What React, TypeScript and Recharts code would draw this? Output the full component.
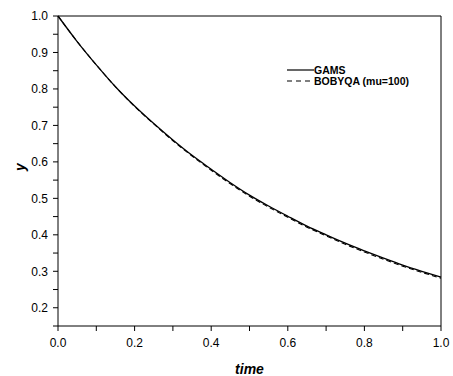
import { LineChart, Line, XAxis, YAxis, Legend, ReferenceLine } from 'recharts';

const times = [0, 0.05, 0.1, 0.15, 0.2, 0.25, 0.3, 0.35, 0.4, 0.45, 0.5, 0.55, 0.6, 0.65, 0.7, 0.75, 0.8, 0.85, 0.9, 0.95, 1.0];
const gams = [1.0, 0.930, 0.866, 0.806, 0.753, 0.705, 0.660, 0.618, 0.580, 0.543, 0.509, 0.479, 0.451, 0.424, 0.400, 0.377, 0.356, 0.336, 0.317, 0.300, 0.284];
const bobyqa = [1.0, 0.930, 0.866, 0.806, 0.752, 0.704, 0.658, 0.616, 0.577, 0.540, 0.506, 0.476, 0.448, 0.421, 0.397, 0.374, 0.353, 0.333, 0.314, 0.297, 0.281];
const xTicks = [0, 0.1, 0.2, 0.3, 0.4, 0.5, 0.6, 0.7, 0.8, 0.9, 1.0];
const yTicks = [0.15, 0.2, 0.25, 0.3, 0.35, 0.4, 0.45, 0.5, 0.55, 0.6, 0.65, 0.7, 0.75, 0.8, 0.85, 0.9, 0.95, 1.0];

const data = times.map((t, i) => ({ t, gams: gams[i], bobyqa: bobyqa[i] }));

const font = 'Arial, "Liberation Sans", sans-serif';

const LegendBox = () => (
  <div style={{ fontFamily: font, fontSize: 10.5, fontWeight: 'bold', color: '#000', lineHeight: '10.5px' }}>
    <div style={{ display: 'flex', alignItems: 'center' }}>
      <svg width={27} height={10}>
        <line x1={0} y1={5} x2={27} y2={5} stroke="#000" strokeWidth={1.2} />
      </svg>
      <span>GAMS</span>
    </div>
    <div style={{ display: 'flex', alignItems: 'center' }}>
      <svg width={27} height={10}>
        <line x1={0} y1={5} x2={27} y2={5} stroke="#000" strokeWidth={1.2} strokeDasharray="5 4" />
      </svg>
      <span>BOBYQA (mu=100)</span>
    </div>
  </div>
);

const App = () => {
  return (
    <div style={{ position: 'absolute', left: 0, top: 0, background: '#fff' }}>
      <LineChart width={453} height={376} data={data} margin={{ top: 16, right: 12, bottom: 20, left: 0 }}>
        <XAxis
          dataKey="t"
          type="number"
          domain={[0, 1]}
          ticks={xTicks}
          height={30}
          tickFormatter={(v: number) => (Math.round(v * 10) % 2 === 0 ? v.toFixed(1) : '')}
          stroke="#000"
          tick={{ fill: '#000', fontSize: 12, fontFamily: font }}
          tickSize={5}
          tickMargin={7}
          label={{ value: 'time', position: 'insideBottom', offset: -18, style: { fontFamily: font, fontSize: 14, fontWeight: 'bold', fontStyle: 'italic', fill: '#000' } }}
        />
        <YAxis
          type="number"
          domain={[0.15, 1]}
          ticks={yTicks}
          width={58}
          tickFormatter={(v: number) => (Math.round(v * 100) % 10 === 0 ? v.toFixed(1) : '')}
          stroke="#000"
          tick={{ fill: '#000', fontSize: 12, fontFamily: font }}
          tickSize={5}
          tickMargin={5}
          label={{ value: 'y', angle: -90, position: 'insideLeft', offset: 20, style: { fontFamily: font, fontSize: 14, fontWeight: 'bold', fontStyle: 'italic', fill: '#000' } }}
        />
        <ReferenceLine y={1} stroke="#000" />
        <ReferenceLine x={1} stroke="#000" />
        <Legend
          layout="vertical"
          align="center"
          verticalAlign="middle"
          content={() => <LegendBox />}
          wrapperStyle={{ top: 65, left: 287, width: 140 }}
        />
        <Line type="monotone" dataKey="gams" stroke="#000" strokeWidth={1.3} dot={false} isAnimationActive={false} />
        <Line type="monotone" dataKey="bobyqa" stroke="#000" strokeWidth={1.1} strokeDasharray="5 3" dot={false} isAnimationActive={false} />
      </LineChart>
    </div>
  );
};

export default App;
